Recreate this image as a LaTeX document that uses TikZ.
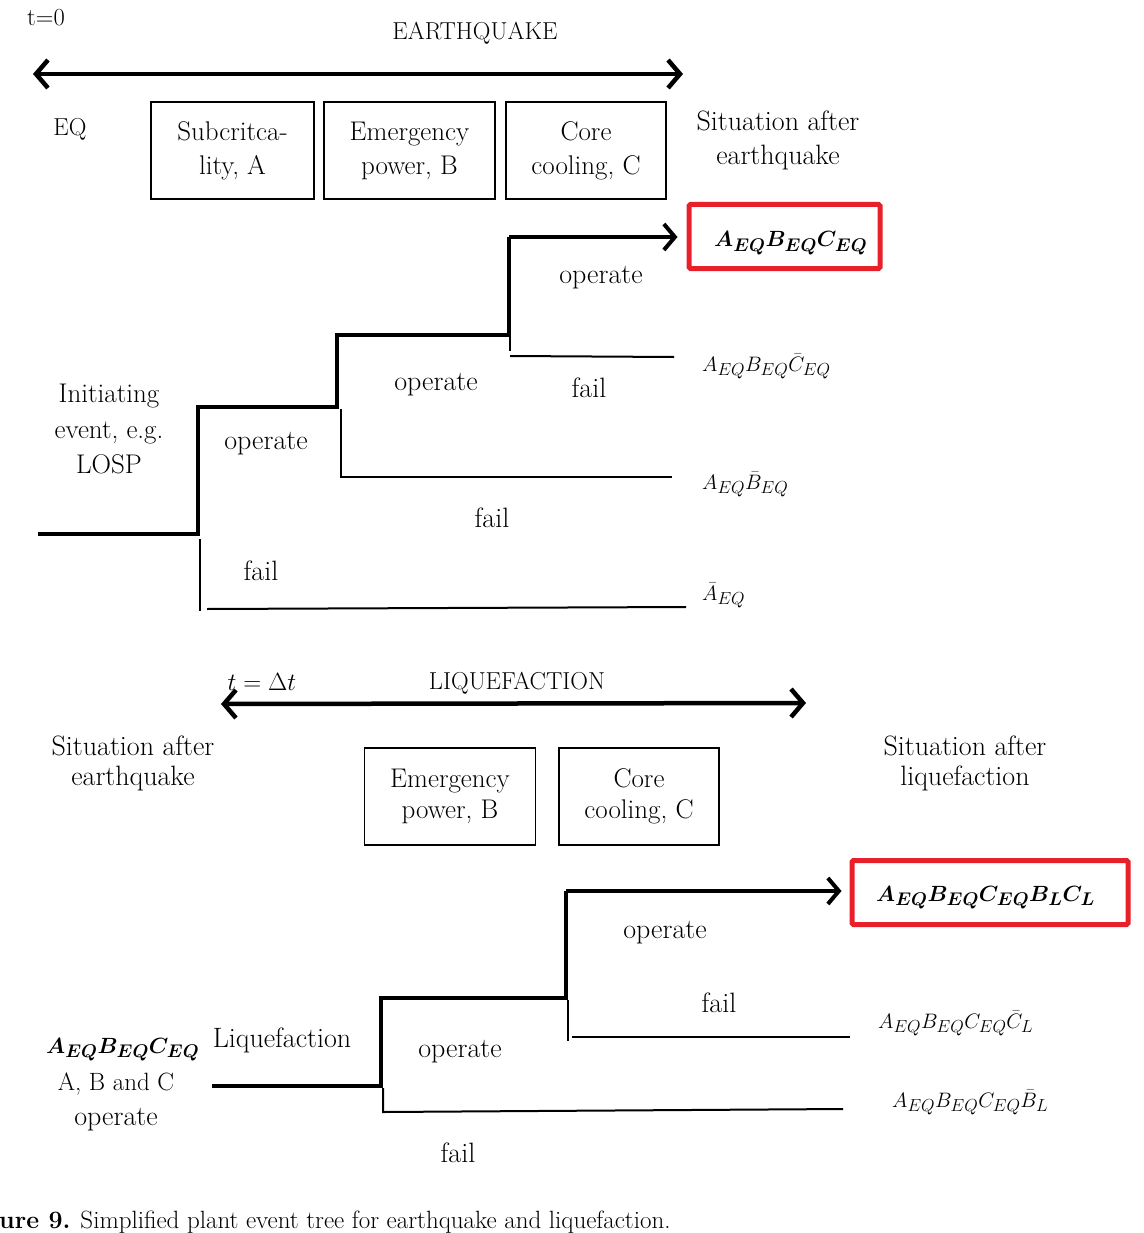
\documentclass[tikz,border=0pt]{standalone}
\usepackage{amsmath}
\usepackage{fontspec}
\usetikzlibrary{arrows.meta}
\definecolor{boxred}{HTML}{E8202A}
\newcommand{\smallmath}[1]{\scalebox{0.84}{$#1$}}
\newcommand{\boldmathx}[1]{\scalebox{0.885}{$\boldsymbol{#1}$}}
\begin{document}
\begin{tikzpicture}[x=1pt,y=-1pt,
  lbl/.style={font=\fontsize{28}{34}\selectfont, inner sep=0pt, align=center},
  caps/.style={font=\fontsize{24.5}{30}\selectfont, inner sep=0pt, align=center},
  mth/.style={font=\fontsize{24.88}{30}\selectfont, inner sep=0pt, anchor=base west},
  bmth/.style={font=\fontsize{24.88}{30}\selectfont, inner sep=0pt, anchor=base west},
  fbox/.style={draw, line width=1.8pt, minimum height=97pt, inner sep=0pt, align=center, font=\fontsize{27}{34}\selectfont},
  redbox/.style={draw=boxred, line width=5pt, rounded corners=1.5pt, minimum height=64pt, inner sep=0pt},
  timeline/.style={line width=4.5pt, {Straight Barb[length=12pt,width=28pt]}-{Straight Barb[length=12pt,width=28pt]}},
  path1/.style={line width=4pt, line join=miter},
  patharrow/.style={line width=4pt, -{Straight Barb[length=11pt,width=26pt]}},
  failline/.style={line width=2pt}
]
\useasboundingbox (0,0) rectangle (1143,1233);

% ---------------- EARTHQUAKE part ----------------
\node[caps] (t0) at (46,18) {t=0};
\node[caps] (eqtitle) at (475,33) {EARTHQUAKE};
\coordinate (tl1a) at (33,74);
\coordinate (tl1b) at (683,74);
\draw[timeline] (tl1a) -- (tl1b);

\node[caps] (eq) at (70,129) {EQ};
\node[fbox, minimum width=163pt] (bA) at (232.5,150.5) {Subcritca-\\lity, A};
\node[fbox, minimum width=171pt] (bB) at (409.5,150.5) {Emergency\\power, B};
\node[fbox, minimum width=160pt] (bC) at (586,150.5) {Core\\cooling, C};
\node[lbl] (sit1) at (778,140) {Situation after\\earthquake};

\node[redbox, minimum width=191pt] (r1) at (784.5,236.5) {};
\node[bmth] (o1) at (714,247) {\boldmathx{A_{EQ}B_{EQ}C_{EQ}}};

\node[lbl, font=\fontsize{27}{35.5}\selectfont] (init) at (109,429) {Initiating\\event, e.g.\\LOSP};

\coordinate (s0) at (38,534);
\coordinate (s1) at (198,534);
\coordinate (s2) at (198,407);
\coordinate (s3) at (337,407);
\coordinate (s4) at (337,335);
\coordinate (s5) at (509,335);
\coordinate (s6) at (509,237);
\draw[path1] (s0) -- (s1) -- (s2) -- (s3) -- (s4) -- (s5) -- (s6);
\draw[patharrow] (s6) -- ([xshift=-9pt]r1.west |- s6);

\node[mth] (o2) at (702,371) {\smallmath{A_{EQ}B_{EQ}\bar{C}_{EQ}}};
\node[mth] (o3) at (702,489) {\smallmath{A_{EQ}\bar{B}_{EQ}}};
\node[mth] (o4) at (702,600) {\smallmath{\bar{A}_{EQ}}};

% fail branches
\coordinate (fc1) at (510,337);
\coordinate (fc2) at (510,351);
\coordinate (fc3) at (510,356);
\coordinate (fc4) at (674,357);
\draw[failline] (fc1) -- (fc2);
\draw[failline] (fc3) -- (fc4);

\coordinate (fb1) at (341,409);
\coordinate (fb2) at (341,477);
\coordinate (fb3) at (672,477);
\draw[failline] (fb1) -- (fb2) -- (fb3);

\coordinate (fa1) at (200,539);
\coordinate (fa2) at (200,611);
\coordinate (fa3) at (207,609);
\coordinate (fa4) at (686,607);
\draw[failline] (fa1) -- (fa2);
\draw[failline] (fa3) -- (fa4);

\node[lbl] (op1) at (601,278) {operate};
\node[lbl] (fl1) at (589,388) {fail};
\node[lbl] (op2) at (436,385) {operate};
\node[lbl] (op3) at (266,444) {operate};
\node[lbl] (fl2) at (492,518) {fail};
\node[lbl] (fl3) at (261,571) {fail};

% ---------------- LIQUEFACTION part ----------------
\node[caps] (tdt) at (262,682) {$t=\Delta t$};
\node[caps] (lqtitle) at (517,683) {LIQUEFACTION};
\coordinate (tl2a) at (221,704);
\coordinate (tl2b) at (806,703);
\draw[timeline] (tl2a) -- (tl2b);

\node[lbl, font=\fontsize{28}{30}\selectfont] (sit2) at (133,763) {Situation after\\earthquake};
\node[fbox, minimum width=171pt, font=\fontsize{27}{31}\selectfont] (bB2) at (450,796.5) {Emergency\\power, B};
\node[fbox, minimum width=160pt, font=\fontsize{27}{31}\selectfont] (bC2) at (639,796.5) {Core\\cooling, C};
\node[lbl, font=\fontsize{28}{30}\selectfont] (sit3) at (965,763) {Situation after\\liquefaction};

\node[redbox, minimum width=276pt] (r2) at (990,892.5) {};
\node[bmth] (o5) at (876,901) {\boldmathx{A_{EQ}B_{EQ}C_{EQ}B_{L}C_{L}}};

\node[bmth] (start2) at (46,1053) {\boldmathx{A_{EQ}B_{EQ}C_{EQ}}};
\node[caps, font=\fontsize{25}{30}\selectfont] (abc) at (116,1084) {A, B and C};
\node[lbl] (abcop) at (116,1120) {operate};
\node[lbl] (liq) at (282,1040) {Liquefaction};

\coordinate (u0) at (212,1086);
\coordinate (u1) at (381,1086);
\coordinate (u2) at (381,998);
\coordinate (u3) at (566,998);
\coordinate (u4) at (566,891);
\draw[path1] (u0) -- (u1) -- (u2) -- (u3) -- (u4);
\draw[patharrow] (u4) -- ([xshift=-8pt]r2.west |- u4);

\node[mth] (o6) at (878,1028) {\smallmath{A_{EQ}B_{EQ}C_{EQ}\bar{C}_{L}}};
\node[mth] (o7) at (892,1107) {\smallmath{A_{EQ}B_{EQ}C_{EQ}\bar{B}_{L}}};

\coordinate (gc1) at (568,1000);
\coordinate (gc2) at (568,1041);
\coordinate (gc3) at (572,1037);
\coordinate (gc4) at (850,1037);
\draw[failline] (gc1) -- (gc2);
\draw[failline] (gc3) -- (gc4);

\coordinate (gb1) at (383,1088);
\coordinate (gb2) at (383,1112);
\coordinate (gb3) at (843,1109);
\draw[failline] (gb1) -- (gb2) -- (gb3);

\node[lbl] (op4) at (665,933) {operate};
\node[lbl] (fl4) at (719,1003) {fail};
\node[lbl] (op5) at (460,1052) {operate};
\node[lbl] (fl5) at (458,1153) {fail};

% caption
\node[font=\fontsize{25}{29}\selectfont, inner sep=0pt, anchor=base west] (cap) at (-1,1228) {\textbf{ure 9.} Simplified plant event tree for earthquake and liquefaction.};
\end{tikzpicture}
\end{document}
